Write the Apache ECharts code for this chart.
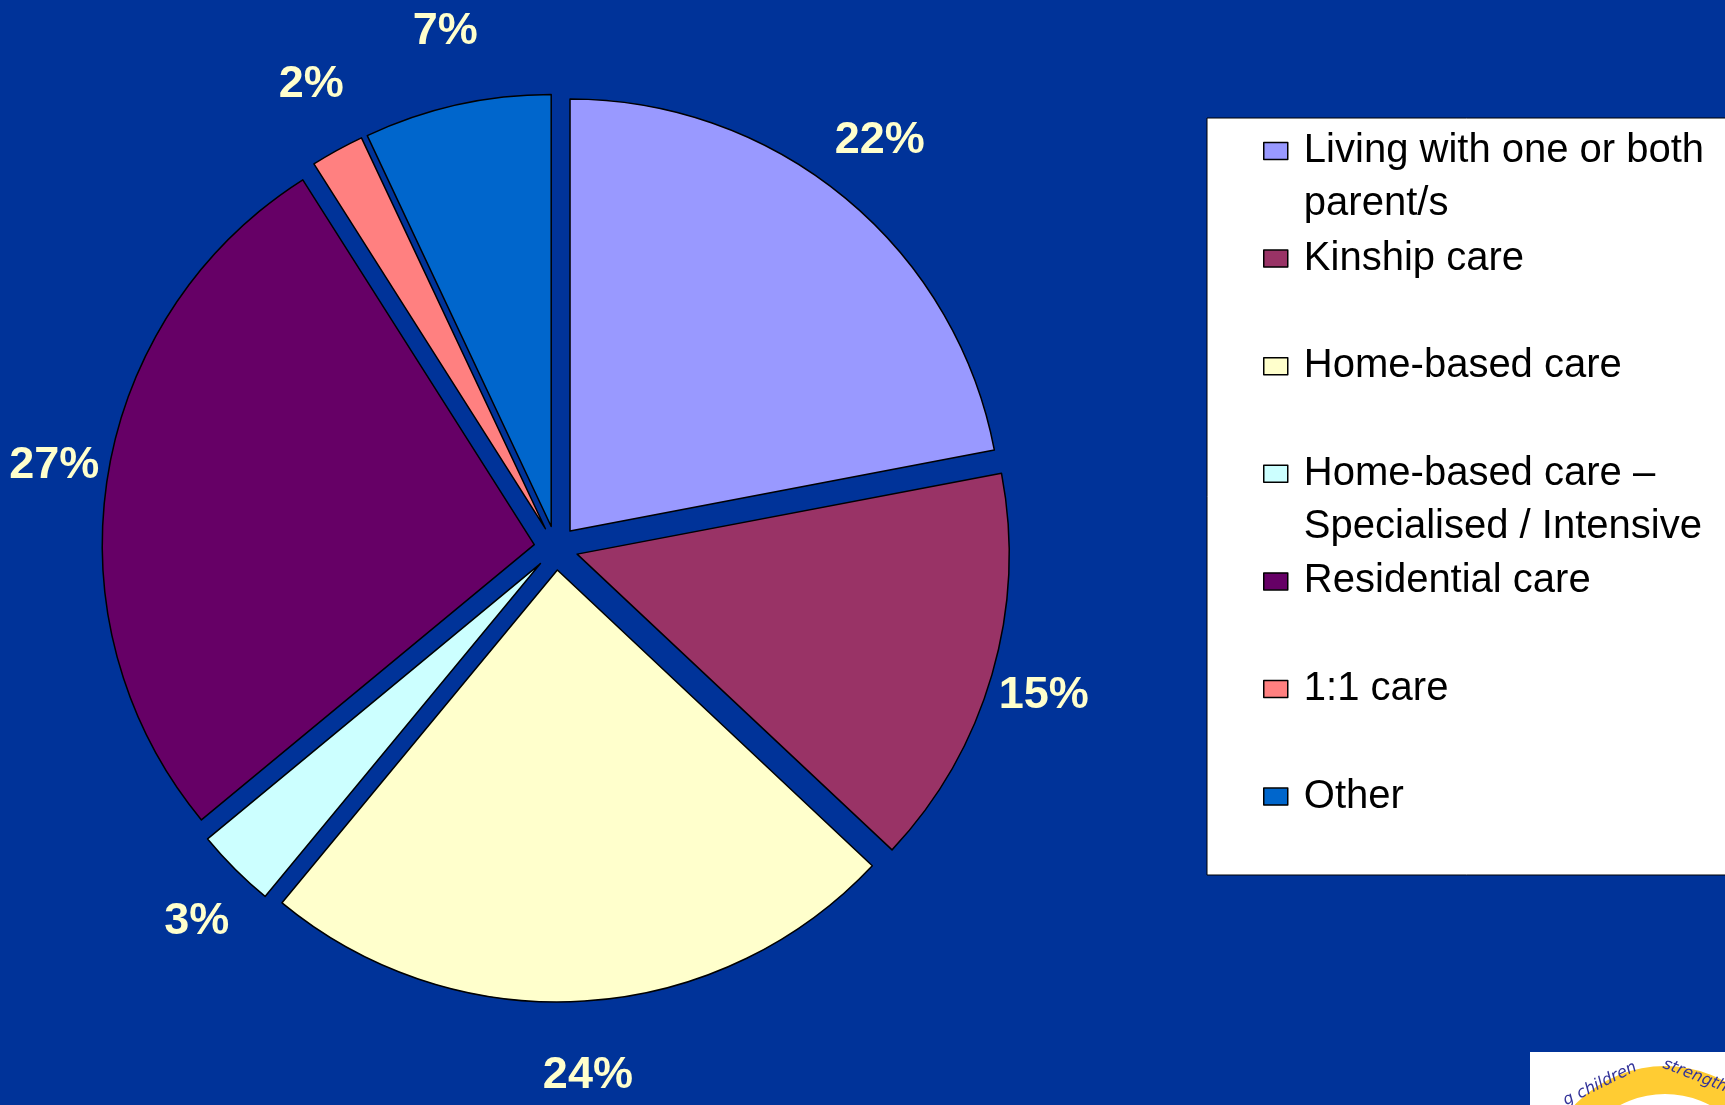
<!DOCTYPE html>
<html>
<head>
<meta charset="utf-8">
<script src="https://cdn.jsdelivr.net/npm/echarts@6/dist/echarts.min.js"></script>
<style>
html,body{margin:0;padding:0;background:#003399;}
#chart{width:1725px;height:1105px;}
</style>
</head>
<body>
<div id="chart"></div>
<script>
// ---- data ----
const categories = [
  'Living with one or both\nparent/s',
  'Kinship care',
  'Home-based care',
  'Home-based care –\nSpecialised / Intensive',
  'Residential care',
  '1:1 care',
  'Other'
];
const values = [22, 15, 24, 3, 27, 2, 7];
const palette = ['#9999FF', '#993366', '#FFFFCC', '#CCFFFF', '#660066', '#FF8080', '#0066CC'];

// ---- layout ----
const CX = 556, CY = 548, R = 432, OFFSET = 22, LABEL_R = 512;
const LABEL_RX = 505, LABEL_RY = 526;
const FONT = "'Liberation Sans', Arial, sans-serif";
const LEG_FIRST = 151, LEG_STEP = 107.6, LEG_LH = 53;

// mid-angle of each slice (clockwise from 12 o'clock), for stretching label ring vertically
const total = values.reduce((a, b) => a + b, 0);
let acc = 0;
const midAngles = values.map(v => { const m = (acc + v / 2) / total * 2 * Math.PI; acc += v; return m; });

const legends = categories.map((name, i) => {
  const twoLine = name.indexOf('\n') >= 0;
  const lineY = LEG_FIRST + LEG_STEP * i;
  return {
    data: [name],
    orient: 'vertical',
    left: 1263,
    top: twoLine ? lineY - LEG_LH * 1.5 : lineY - LEG_LH / 2,
    padding: 0,
    itemWidth: 24,
    itemHeight: 17,
    itemGap: 0,
    icon: 'rect',
    selectedMode: false,
    z: 5,
    formatter: function (n) {
      const lines = n.split('\n').map(l => ' ' + l);
      return (lines.length > 1 ? '\n' : '') + lines.join('\n');
    },
    itemStyle: { borderColor: '#000', borderWidth: 1.5 },
    textStyle: { fontFamily: FONT, fontSize: 40, color: '#000', lineHeight: LEG_LH }
  };
});

const chart = echarts.init(document.getElementById('chart'), null, { renderer: 'canvas' });
chart.setOption({
  backgroundColor: '#003399',
  animation: false,
  color: palette,
  legend: legends,
  graphic: [
    { type: 'rect', z: 0, shape: { x: 1207, y: 118, width: 540, height: 757 },
      style: { fill: '#FFFFFF', stroke: '#000', lineWidth: 1 } },
    { type: 'rect', z: 0, shape: { x: 1530, y: 1052, width: 200, height: 60 },
      style: { fill: '#FFFFFF' } },
    { type: 'arc', z: 1, shape: { cx: 1665, cy: 1190, r: 110, startAngle: Math.PI, endAngle: 2 * Math.PI },
      style: { stroke: '#FFCC33', lineWidth: 28, fill: null } },
    { type: 'text', z: 2, x: 1600, y: 1084, rotation: 0.46,
      style: { text: 'g children', fill: '#333399', font: "italic 16px 'DejaVu Sans'", align: 'center', verticalAlign: 'middle' } },
    { type: 'text', z: 2, x: 1716, y: 1084, rotation: -0.37,
      style: { text: 'strengthening', fill: '#333399', font: "italic 16px 'DejaVu Sans'", align: 'center', verticalAlign: 'middle' } }
  ],
  series: [
    {
      type: 'pie',
      name: 'slices',
      center: [CX, CY],
      radius: R,
      startAngle: 90,
      clockwise: true,
      selectedMode: 'multiple',
      selectedOffset: OFFSET,
      data: categories.map((n, i) => ({ name: n, value: values[i], selected: true })),
      itemStyle: { borderColor: '#000', borderWidth: 1.5 },
      select: { itemStyle: { borderColor: '#000', borderWidth: 1.5 } },
      emphasis: { disabled: true },
      label: { show: false },
      labelLine: { show: false }
    },
    {
      type: 'pie',
      name: 'labels',
      silent: true,
      center: [CX, CY],
      radius: [LABEL_R - 20, LABEL_R + 20],
      startAngle: 90,
      clockwise: true,
      avoidLabelOverlap: false,
      data: categories.map((n, i) => ({
        name: n,
        value: values[i],
        label: { offset: [(LABEL_RX - LABEL_R) * Math.sin(midAngles[i]), -(LABEL_RY - LABEL_R) * Math.cos(midAngles[i])] }
      })),
      itemStyle: { color: 'rgba(0,0,0,0)', borderWidth: 0 },
      emphasis: { disabled: true },
      label: {
        show: true, position: 'inside', formatter: '{c}%',
        fontFamily: FONT, fontSize: 45, fontWeight: 'bold', color: '#FFFFCC'
      },
      labelLine: { show: false }
    }
  ]
});
</script>
</body>
</html>
